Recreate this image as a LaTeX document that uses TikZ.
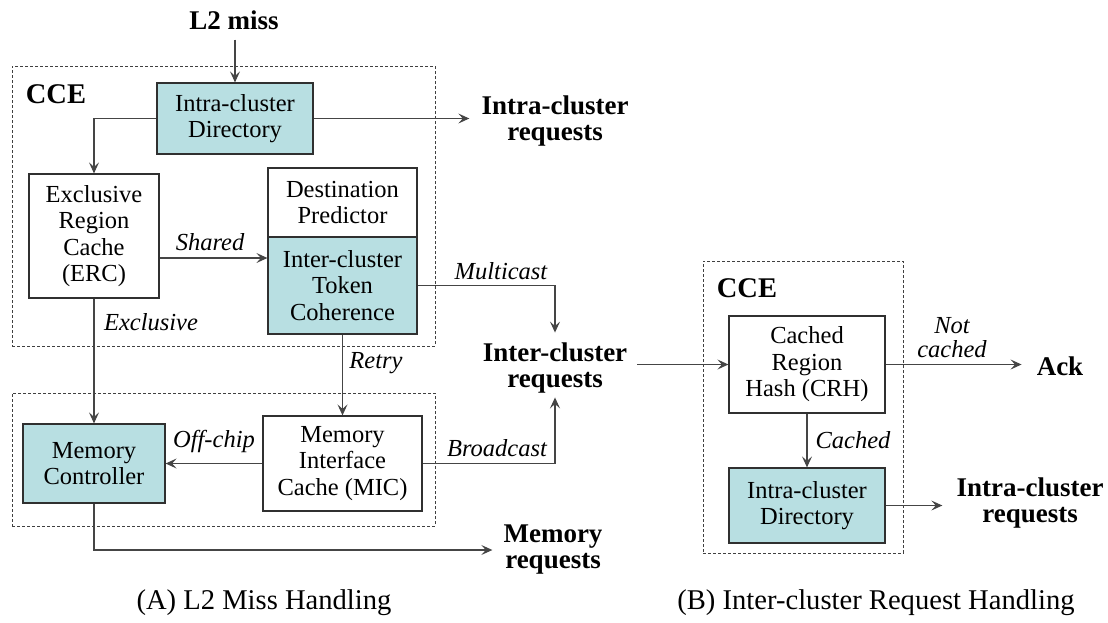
\documentclass[tikz,border=0pt]{standalone}
\usepackage{fontspec}
\setmainfont{Liberation Serif}
\usetikzlibrary{arrows.meta,calc}
\definecolor{tealfill}{HTML}{B8DFE2}
\definecolor{linec}{HTML}{454545}
\definecolor{boxc}{HTML}{303030}
\begin{document}
\begin{tikzpicture}[x=1pt,y=-1pt,
 box/.style={draw=boxc, line width=1.2pt, align=center, inner sep=0pt, font=\fontsize{24.5}{26.5}\selectfont},
 tbox/.style={box, fill=tealfill},
 dbox/.style={draw=black!75, dash pattern=on 3pt off 2pt, line width=0.9pt, inner sep=0pt},
 lab/.style={font=\fontsize{24.5}{24}\selectfont\itshape, inner sep=0pt, align=center},
 big/.style={font=\fontsize{27}{26}\selectfont\bfseries, align=center, inner sep=0pt},
 ccel/.style={font=\fontsize{28.5}{30}\selectfont\bfseries, inner sep=0pt},
 capt/.style={font=\fontsize{28.6}{30}\selectfont, inner sep=0pt},
 arr/.style={draw=linec, line width=1.1pt, -{Stealth[length=11pt,width=10pt,inset=4.5pt]}}]

\useasboundingbox (0,0) rectangle (1108,622);

% dashed groups
\node[dbox, minimum width=423, minimum height=280] (cceA) at (223.5,206) {};
\node[dbox, minimum width=423, minimum height=133] (memA) at (223.5,459.5) {};
\node[dbox, minimum width=200, minimum height=292] (cceB) at (803,407) {};
\node[ccel] (cceAl) at (56,94) {CCE};
\node[ccel] (cceBl) at (747,288) {CCE};

% boxes
\node[tbox, minimum width=156, minimum height=71] (icd) at (235,118.5) {Intra-cluster\\Directory};
\node[box, minimum width=130, minimum height=124] (erc) at (94,236) {Exclusive\\Region\\Cache\\(ERC)};
\node[box, minimum width=149, minimum height=69] (dp) at (342.5,202.5) {Destination\\Predictor};
\node[tbox, minimum width=149, minimum height=97] (ictc) at (342.5,285.5) {Inter-cluster\\Token\\Coherence};
\node[tbox, minimum width=142, minimum height=79] (mc) at (94,463.5) {Memory\\Controller};
\node[box, minimum width=159, minimum height=95] (mic) at (342.5,463.5) {Memory\\Interface\\Cache (MIC)};
\node[box, minimum width=156, minimum height=97] (crh) at (807,364.5) {Cached\\Region\\Hash (CRH)};
\node[tbox, minimum width=156, minimum height=75] (icd2) at (807,505.5) {Intra-cluster\\Directory};

% bold terminals
\node[big] (l2) at (234,20) {L2 miss};
\node[big] (intraA) at (555,121) {Intra-cluster\\requests};
\node[big] (inter) at (555,368) {Inter-cluster\\requests};
\node[big] (memreq) at (553,550) {Memory\\requests};
\node[big] (ack) at (1060,366) {Ack};
\node[big] (intraB) at (1030,503) {Intra-cluster\\requests};

% italic labels
\node[lab] (lshared) at (210,242) {Shared};
\node[lab] (lmulti) at (501,271) {Multicast};
\node[lab] (lexcl) at (151,322) {Exclusive};
\node[lab] (lretry) at (376,363) {Retry};
\node[lab] (loff) at (214,441) {Off-chip};
\node[lab] (lbroad) at (497,448) {Broadcast};
\node[lab] (lnot) at (952,338) {Not\\cached};
\node[lab] (lcached) at (853,440) {Cached};

% captions
\node[capt] (capA) at (264,603) {(A) L2 Miss Handling};
\node[capt] (capB) at (876,603) {(B) Inter-cluster Request Handling};

% connectors
\coordinate (shy) at (0,258);
\draw[arr, shorten <=10pt] (l2.south -| icd.north) -- (icd.north);
\draw[arr] (icd.west) -| (erc.north);
\draw[arr, shorten >=12pt] (icd.east) -- (icd.east -| intraA.west);
\draw[arr] (erc.east |- shy) -- (ictc.west |- shy);
\draw[arr, shorten >=10pt] (ictc.east) -| (inter.north);
\draw[arr] (erc.south) -- (mc.north);
\draw[arr] (ictc.south) -- (mic.north);
\draw[arr] (mic.west) -- (mc.east);
\draw[arr, shorten >=4pt] (mic.east) -| (inter.south);
\draw[arr, shorten >=11pt] (mc.south) |- (memreq.west);
\draw[arr, shorten <=10pt] (inter.east |- crh.west) -- (crh.west);
\draw[arr, shorten >=15pt] (crh.east) -- (ack.west |- crh.east);
\draw[arr] (crh.south) -- (icd2.north);
\draw[arr, shorten >=14pt] (icd2.east) -- (icd2.east -| intraB.west);
\end{tikzpicture}
\end{document}
